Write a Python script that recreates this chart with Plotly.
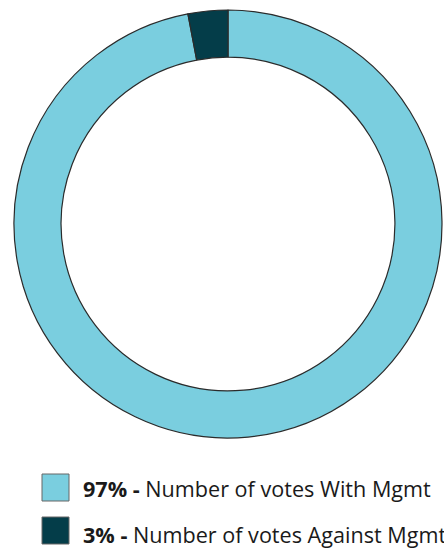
import plotly.graph_objects as go

# Vote breakdown
labels = ["Number of votes With Mgmt", "Number of votes Against Mgmt"]
values = [97, 3]
colors = ["#7ACEDF", "#043D49"]

W, H = 444, 549

fig = go.Figure(
    go.Pie(
        labels=labels,
        values=values,
        hole=0.78,
        sort=False,
        direction="clockwise",
        rotation=0,
        textinfo="none",
        hoverinfo="label+percent",
        marker=dict(colors=colors, line=dict(color="#2b2b2b", width=1.2)),
        domain=dict(x=[14 / W, 442 / W], y=[1 - 438 / H, 1 - 10 / H]),
        showlegend=False,
    )
)

# Custom legend: square swatch + bold percentage + label
total = sum(values)
swatch_centers = [487.5, 530.5]
text_centers = [488, 534]
for lab, val, col, ys, yt in zip(labels, values, colors, swatch_centers, text_centers):
    fig.add_shape(
        type="rect",
        xref="paper", yref="paper",
        x0=42 / W, x1=69 / W,
        y0=1 - (ys + 13.5) / H, y1=1 - (ys - 13.5) / H,
        fillcolor=col,
        line=dict(color="#666666", width=1),
    )
    pct = round(val / total * 100)
    fig.add_annotation(
        xref="paper", yref="paper",
        x=81 / W, y=1 - yt / H,
        xanchor="left", yanchor="middle",
        showarrow=False,
        text=f"<b>{pct}% -</b> {lab}",
        font=dict(family="Open Sans", size=21.6, color="#1a1a1a"),
    )

fig.update_layout(
    width=W, height=H,
    margin=dict(l=0, r=0, t=0, b=0),
    paper_bgcolor="white",
    plot_bgcolor="white",
)

fig.write_html("out.html")
